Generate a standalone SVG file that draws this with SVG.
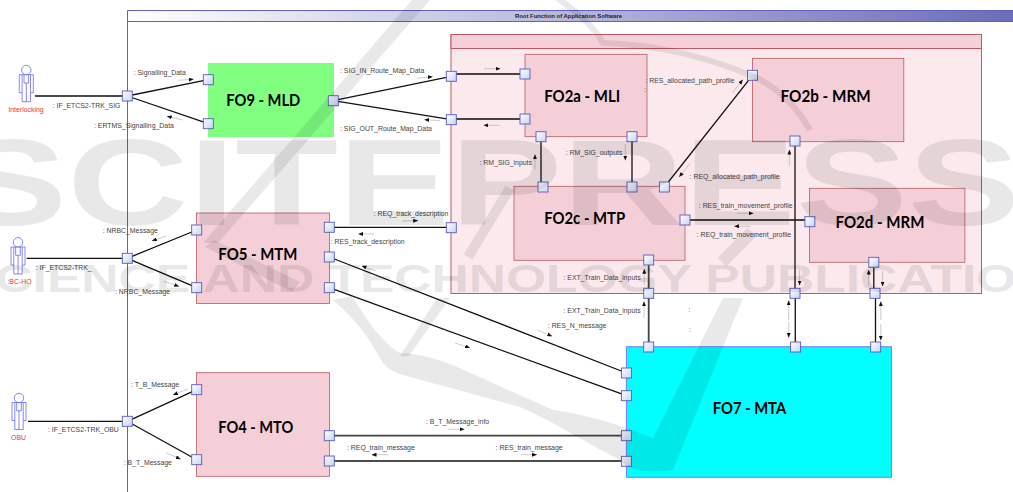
<svg xmlns="http://www.w3.org/2000/svg" width="1013" height="492" viewBox="0 0 1013 492">
<style>
.lbl{font:6.9px "Liberation Sans",Arial,sans-serif;fill:#444}
.act{font:6.9px "Liberation Sans",Arial,sans-serif;fill:#f03030;text-anchor:middle}
.ttl{font:bold 5.9px "Liberation Sans",Arial,sans-serif;fill:#222}
.node{font:bold 17.5px Lato,"Open Sans",sans-serif;fill:#000}
.fo{fill:#f4cfd8;stroke:#b85a60;stroke-width:.8}
.port{fill:url(#pg);stroke:#5a5ab8;stroke-width:.9}
.conn{fill:none;stroke:#111;stroke-width:1.3}
.conn2{fill:none;stroke:#444;stroke-width:1.8}
.msg{fill:none;stroke:#999;stroke-width:.5;marker-end:url(#ah)}
.actor{fill:none;stroke:#6a6af0;stroke-width:.8}
.wm{fill:#000;opacity:.085;font-family:"Liberation Sans",Arial,sans-serif;font-weight:bold}
.wl{fill:none;stroke:#000;opacity:.085}
.wp{fill:#000;opacity:.085}
</style>
<defs>
<linearGradient id="hg" x1="0" x2="1" y1="0" y2="0"><stop offset="0" stop-color="#fff"/><stop offset="1" stop-color="#6c6cb8"/></linearGradient>
<linearGradient id="pg" x1="0" x2="1" y1="0" y2="1"><stop offset="0" stop-color="#fff"/><stop offset="1" stop-color="#c4d4f4"/></linearGradient>
<marker id="ah" markerUnits="userSpaceOnUse" markerWidth="5" markerHeight="4" refX="4.5" refY="2" orient="auto"><path d="M0 0L5 2L0 4Z" fill="#111"/></marker>
<g id="pt"><rect x="-5" y="-5" width="10" height="10" class="port"/></g>
</defs>

<g id="frame">
<rect x="128" y="11" width="885" height="10.5" fill="url(#hg)"/>
<path d="M127.5 492V10.5H1013M127.5 21.5H1013" fill="none" stroke="#6060c0"/>
<text x="515" y="18.2" class="ttl">Root Function of Application Software</text>
</g>

<g id="FO2-container">
<rect x="451" y="34.5" width="530.5" height="259" fill="#fbe9ed" stroke="#c0585e"/>
<rect x="451" y="34.5" width="530.5" height="14" fill="#f4d0d8" stroke="#c0585e"/>
</g>

<g id="FO9"><rect x="208" y="63" width="126" height="74" fill="#80ff80"/><text x="226.3" y="106" class="node" textLength="74" lengthAdjust="spacingAndGlyphs">FO9 - MLD</text></g>
<g id="FO5"><rect x="196.5" y="213" width="133" height="90.5" class="fo"/><text x="218.3" y="260.3" class="node" textLength="79" lengthAdjust="spacingAndGlyphs">FO5 - MTM</text></g>
<g id="FO4"><rect x="196.5" y="372.7" width="133" height="103.6" class="fo"/><text x="218.3" y="432.7" class="node" textLength="75" lengthAdjust="spacingAndGlyphs">FO4 - MTO</text></g>
<g id="FO2a"><rect x="525" y="54.3" width="122" height="82.4" class="fo"/><text x="544.2" y="102.3" class="node" textLength="76" lengthAdjust="spacingAndGlyphs">FO2a - MLI</text></g>
<g id="FO2b"><rect x="752.5" y="58.3" width="151.3" height="83.4" class="fo"/><text x="780.6" y="102.3" class="node" textLength="90" lengthAdjust="spacingAndGlyphs">FO2b - MRM</text></g>
<g id="FO2c"><rect x="514" y="186.3" width="171" height="74" class="fo"/><text x="544.2" y="224" class="node" textLength="81" lengthAdjust="spacingAndGlyphs">FO2c - MTP</text></g>
<g id="FO2d"><rect x="809.5" y="188.3" width="155.4" height="74" class="fo"/><text x="835.5" y="228" class="node" textLength="89" lengthAdjust="spacingAndGlyphs">FO2d - MRM</text></g>
<g id="FO7"><rect x="626.4" y="346.7" width="265" height="130.6" fill="#00ffff" stroke="#7a7aff"/><text x="712.7" y="414.3" class="node" textLength="73.5" lengthAdjust="spacingAndGlyphs">FO7 - MTA</text></g>

<g id="actors">
<g id="Interlocking"><circle cx="26.3" cy="70" r="4.7" class="actor"/><path class="actor" d="M19.3 74.7H33.3V92.7H30.5V101.7H22.1V92.7H19.3ZM22.1 74.7V92.7M30.5 74.7V92.7M26.3 83V101.7M24 74.7V83H28.6V74.7"/><text x="26" y="112" class="act">Interlocking</text></g>
<g id="SBC-HO"><circle cx="18" cy="242.3" r="4.7" class="actor"/><path class="actor" d="M11 247H25V265H22.2V274H13.8V265H11ZM13.8 247V265M22.2 247V265M18 255.3V274M15.7 247V255.3H20.3V247"/><text x="19.5" y="284" class="act">:BC-HO</text></g>
<g id="OBU"><circle cx="19" cy="398" r="4.7" class="actor"/><path class="actor" d="M12 402.5H26V420.5H23.2V429.5H14.8V420.5H12ZM14.8 402.5V420.5M23.2 402.5V420.5M19 410.8V429.5M16.7 402.5V410.8H21.3V402.5"/><text x="18.5" y="440" class="act">OBU</text></g>
</g>

<g id="connectors">
<path class="conn" d="M35 96H127.3M127.3 96L208.3 79.7M127.3 96L208.3 123.7"/>
<path class="conn" d="M333.3 100.7L451.3 76.3M333.3 100.7L451.3 119.7"/>
<path class="conn2" d="M451.3 74H525M451.3 119H525"/>
<path class="conn" d="M26.7 258.3H127.3M127.3 258.3L196.7 230M127.3 258.3L196.7 287.7"/>
<path class="conn" d="M28 421.3H127.3M127.3 421.3L196.7 389.7M127.3 421.3L196.7 459.7"/>
<path class="conn" d="M329.3 227.3H451.3M329.3 257L626.4 373M329.3 287.7L626.4 395.7"/>
<path class="conn2" d="M329.3 435.7H626.4"/><path class="conn" d="M329.3 461H626.4"/>
<path class="conn" d="M541 136.7V187M632 136.7V187M664.4 187L752.5 75.3"/>
<path class="conn2" d="M685 220H809.9M648.7 260V347"/>
<path class="conn" d="M795 141V293.3M795.3 293.3V347M873.8 262.3V293.3M875.5 293.3V347"/>
</g>

<g id="ports">
<use href="#pt" x="127.3" y="96"/><use href="#pt" x="208.3" y="79.7"/><use href="#pt" x="208.3" y="123.7"/><use href="#pt" x="333.3" y="100.7"/>
<use href="#pt" x="451.3" y="76.3"/><use href="#pt" x="451.3" y="119.7"/><use href="#pt" x="451.3" y="227.7"/>
<use href="#pt" x="525" y="74"/><use href="#pt" x="525" y="119"/><use href="#pt" x="541" y="136.7"/><use href="#pt" x="632" y="136.7"/>
<use href="#pt" x="752.5" y="75.3"/><use href="#pt" x="795" y="141"/>
<use href="#pt" x="543" y="187"/><use href="#pt" x="632" y="187"/><use href="#pt" x="664.4" y="187"/><use href="#pt" x="685" y="220"/><use href="#pt" x="648.7" y="260"/>
<use href="#pt" x="809.9" y="221.7"/><use href="#pt" x="873.8" y="262.3"/>
<use href="#pt" x="648.7" y="293.3"/><use href="#pt" x="795" y="293.3"/><use href="#pt" x="875" y="293.3"/>
<use href="#pt" x="648.7" y="347"/><use href="#pt" x="795.6" y="347"/><use href="#pt" x="875.7" y="347"/>
<use href="#pt" x="626.4" y="373"/><use href="#pt" x="626.4" y="395.7"/><use href="#pt" x="626.4" y="435.7"/><use href="#pt" x="626.4" y="461.3"/>
<use href="#pt" x="127.3" y="258.3"/><use href="#pt" x="196.7" y="230"/><use href="#pt" x="196.7" y="287.7"/>
<use href="#pt" x="329.3" y="227.3"/><use href="#pt" x="329.3" y="257"/><use href="#pt" x="329.3" y="287.7"/>
<use href="#pt" x="127.3" y="421.3"/><use href="#pt" x="196.7" y="389.7"/><use href="#pt" x="196.7" y="459.7"/><use href="#pt" x="329.3" y="435.7"/><use href="#pt" x="329.3" y="461"/>
</g>

<g id="message-arrows">
<path class="msg" d="M177.7 80.3L193.3 79.3"/><path class="msg" d="M182.7 120L167.3 116.3"/><path class="msg" d="M416.7 78.3L432.3 76.7"/><path class="msg" d="M440 120.7L424.7 119.7"/>
<path class="msg" d="M402 221L417.7 220.7"/><path class="msg" d="M374 234L358.7 234"/><path class="msg" d="M166.7 236L152.3 240.7"/><path class="msg" d="M163.7 281.3L178.7 286.3"/>
<path class="msg" d="M188 389L173.3 394.7"/><path class="msg" d="M166 452.7L180.3 459"/><path class="msg" d="M376 271L362 266"/><path class="msg" d="M388 454.7H372"/>
<path class="msg" d="M448 429.3H464.1"/><path class="msg" d="M521 454.7H536.5"/><path class="msg" d="M537.2 330L551.8 336"/><path class="msg" d="M455 343L469.6 347.7"/>
<path class="msg" d="M644 318.3V301.7"/><path class="msg" d="M644.3 285V269.3"/><path class="msg" d="M788.7 320V300.7"/><path class="msg" d="M788.7 321.7V337.3"/>
<path class="msg" d="M880.8 320V301.7"/><path class="msg" d="M880.8 324V340"/><path class="msg" d="M799.6 270V285"/><path class="msg" d="M868.7 286V270"/><path class="msg" d="M882.6 270.7V286"/>
<path class="msg" d="M789.4 165.7V150"/><path class="msg" d="M535 170V154.7"/><path class="msg" d="M625.3 144V160"/>
<path class="msg" d="M484.2 68.7H500"/><path class="msg" d="M499.6 125.3H483.9"/><path class="msg" d="M732.4 92.7L742.6 80"/><path class="msg" d="M690 163.3L679.4 176.7"/>
<path class="msg" d="M737.1 213.3H753.2"/><path class="msg" d="M750.7 226.3H734.6"/>
</g>

<g id="labels">
<text class="lbl" x="133.7" y="75">: Signalling_Data</text>
<text class="lbl" x="52.7" y="108">: IF_ETCS2-TRK_SIG</text>
<text class="lbl" x="94" y="128">: ERTMS_Signalling_Data</text>
<text class="lbl" x="340" y="73">: SIG_IN_Route_Map_Data</text>
<text class="lbl" x="340" y="130.5">: SIG_OUT_Route_Map_Data</text>
<text class="lbl" x="373.7" y="216">: REQ_track_description</text>
<text class="lbl" x="330.7" y="244">: RES_track_description</text>
<text class="lbl" x="102.7" y="233">: NRBC_Message</text>
<text class="lbl" x="115" y="294">: NRBC_Message</text>
<text class="lbl" x="35.7" y="270">: IF_ETCS2-TRK_</text>
<text class="lbl" x="131" y="387">: T_B_Message</text>
<text class="lbl" x="123.7" y="465">: B_T_Message</text>
<text class="lbl" x="48" y="432">: IF_ETCS2-TRK_OBU</text>
<text class="lbl" x="426" y="424">: B_T_Message_info</text>
<text class="lbl" x="347" y="450">: REQ_train_message</text>
<text class="lbl" x="495.6" y="450">: RES_train_message</text>
<text class="lbl" x="547.8" y="328">: RES_N_message</text>
<text class="lbl" x="563.5" y="313">: EXT_Train_Data_inputs</text>
<text class="lbl" x="563.5" y="280">: EXT_Train_Data_inputs</text>
<text class="lbl" x="479.5" y="164.5">: RM_SIG_inputs</text>
<text class="lbl" x="565.7" y="154.5">: RM_SIG_outputs</text>
<text class="lbl" x="645.4" y="82.5">: RES_allocated_path_profile</text>
<text class="lbl" x="644" y="92">:</text>
<text class="lbl" x="689.6" y="178.5">: REQ_allocated_path_profile</text>
<text class="lbl" x="698.8" y="208">: RES_train_movement_profile</text>
<text class="lbl" x="696.6" y="236.5">: REQ_train_movement_profile</text>
<text class="lbl" x="688.5" y="312">:</text>
<text class="lbl" x="689" y="332">:</text>
</g>

<g id="watermark">
<text class="wm" x="-45" y="225" font-size="122" textLength="1065" lengthAdjust="spacingAndGlyphs">SCITEPRESS</text>
<text class="wm" x="-39" y="292" font-size="38" textLength="1127" lengthAdjust="spacingAndGlyphs">SCIENCE AND TECHNOLOGY PUBLICATIONS</text>
<path class="wp" d="M412 0H430L218 243H203Z"/>
<path class="wp" d="M205 247L214 240L300 282L292 292Z"/>
<path class="wp" d="M333 300L352 296C370 325 385 345 400 353C415 353 435 358 453 365L553 410C590 415 620 425 653 438L723 298H743L673 470C640 474 630 470 620 460C590 445 560 425 520 407L403 375C395 373 390 370 383 363C365 330 350 315 333 300Z"/>
<path class="wp" d="M437 298H450L409 356H400Z"/>
<path class="wl" stroke-width="6" d="M557 -2Q590 20 603 43Q680 45 757 78Q790 95 810 130"/>
<path class="wl" stroke-width="12" d="M752 232L722 262"/>
<path class="wl" stroke-width="10" d="M510 188L468 257"/>
</g>
</svg>
